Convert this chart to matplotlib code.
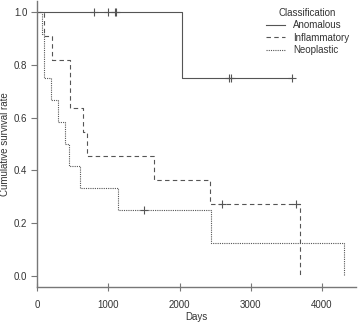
import matplotlib
matplotlib.use("Agg")
import matplotlib.pyplot as plt

# Kaplan-Meier step data (days, survival)
anom_t = [0, 2030, 3580]
anom_s = [1.0, 0.75, 0.75]
anom_cens_t = [790, 990, 1090, 1110, 2700, 2720, 3580]
anom_cens_s = [1.0, 1.0, 1.0, 1.0, 0.75, 0.75, 0.75]

infl_t = [0, 95, 210, 460, 635, 700, 1645, 2430, 3690]
infl_s = [1.0, 0.909, 0.818, 0.636, 0.545, 0.455, 0.364, 0.273, 0.0]
infl_cens_t = [2590, 3630]
infl_cens_s = [0.273, 0.273]

neo_t = [0, 65, 100, 195, 285, 385, 450, 600, 1140, 2445, 4305]
neo_s = [1.0, 0.917, 0.75, 0.667, 0.583, 0.5, 0.417, 0.333, 0.25, 0.125, 0.0]
neo_cens_t = [1495]
neo_cens_s = [0.25]

line_col = "#555555"
axis_col = "#777777"
text_col = "#333333"

plt.rcParams["font.family"] = ["Liberation Sans", "DejaVu Sans"]
plt.rcParams["font.size"] = 7

fig = plt.figure(figsize=(3.58, 3.23), dpi=100)
ax = fig.add_axes([37/358, 36/323, 319/358, 286/323])

ax.plot(anom_t, anom_s, drawstyle="steps-post", color=line_col, lw=0.8, ls="-", label="Anomalous")
ax.plot(infl_t, infl_s, drawstyle="steps-post", color=line_col, lw=0.8, ls=(0, (4, 3)), label="Inflammatory")
ax.plot(neo_t, neo_s, drawstyle="steps-post", color=line_col, lw=0.8, ls=(0, (1, 1)), label="Neoplastic")

ax.plot(anom_cens_t, anom_cens_s, "+", color=line_col, ms=6, mew=0.8)
ax.plot(infl_cens_t, infl_cens_s, "+", color=line_col, ms=6, mew=0.8)
ax.plot(neo_cens_t, neo_cens_s, "+", color=line_col, ms=6, mew=0.8)

ax.set_xlim(-5, 4480)
ax.set_ylim(-0.04, 1.04)
ax.set_xticks([0, 1000, 2000, 3000, 4000])
ax.set_yticks([0.0, 0.2, 0.4, 0.6, 0.8, 1.0])
ax.set_yticklabels(["0.0", "0.2", "0.4", "0.6", "0.8", "1.0"])

for side in ["top", "right"]:
    ax.spines[side].set_visible(False)
for side in ["left", "bottom"]:
    ax.spines[side].set_color(axis_col)
    ax.spines[side].set_linewidth(1.0)

ax.tick_params(axis="y", direction="out", length=4, width=0.8, color=axis_col, labelcolor=text_col, pad=3)
ax.tick_params(axis="x", direction="inout", length=6, width=0.8, color=axis_col, labelcolor=text_col, pad=6)

ax.set_xlabel("Days", color=text_col, labelpad=2)
ax.set_ylabel("Cumulative survival rate", color=text_col, labelpad=3)

leg = ax.legend(title="Classification", loc="upper right", bbox_to_anchor=(1.0, 1.0),
                frameon=False, fontsize=7, title_fontsize=7, handlelength=2.0,
                handletextpad=0.8, labelspacing=0.25, borderaxespad=0.3)
for t in leg.get_texts():
    t.set_color(text_col)
leg.get_title().set_color(text_col)

fig.savefig("out.png", dpi=100)
